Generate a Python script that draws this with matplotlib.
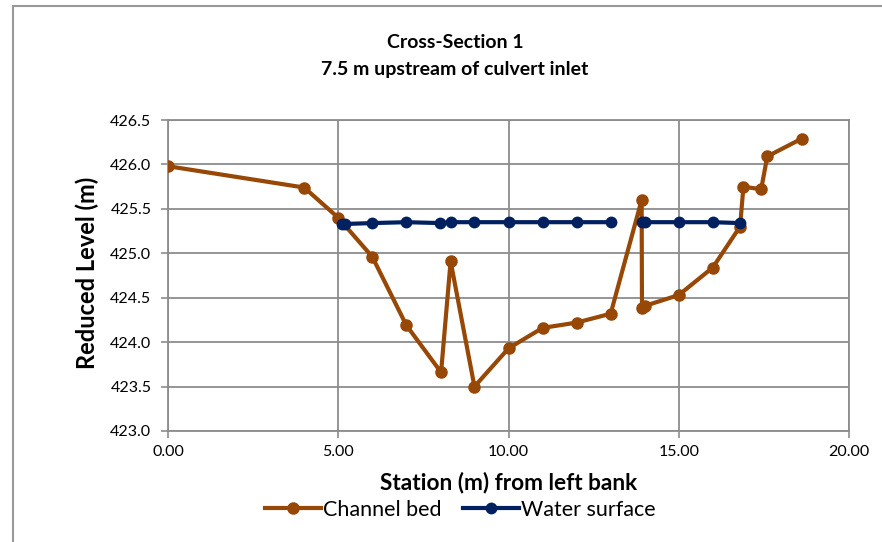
import numpy as np
import matplotlib
matplotlib.use("Agg")
import matplotlib.pyplot as plt
from matplotlib.patches import Rectangle

plt.rcParams['font.family'] = ['Lato', 'DejaVu Sans']

# channel bed survey points (station m, reduced level m)
bed_station = [0.0, 4.0, 5.0, 6.0, 7.0, 8.02, 8.3, 9.0, 10.0, 11.0, 12.0, 13.0,
               13.91, 13.92, 14.02, 15.0, 16.0, 16.8, 16.9, 17.42, 17.6, 18.61]
bed_level = [425.98, 425.74, 425.40, 424.96, 424.19, 423.66, 424.91, 423.50, 423.93,
             424.16, 424.22, 424.32, 425.60, 424.38, 424.41, 424.53, 424.84, 425.30,
             425.75, 425.72, 426.09, 426.29]

# water surface (gap between 13 and 13.9)
ws_station = [5.1, 5.2, 6.0, 7.0, 8.0, 8.32, 9.0, 10.0, 11.0, 12.0, 13.0, 13.5,
              13.92, 14.02, 15.0, 16.0, 16.8]
ws_level = [425.33, 425.33, 425.34, 425.35, 425.34, 425.35, 425.35, 425.35, 425.35,
            425.35, 425.35, np.nan, 425.35, 425.35, 425.35, 425.35, 425.34]

bed_color = '#974706'
ws_color = '#002060'
grid_color = '#8c8c8c'

fig = plt.figure(figsize=(8.82, 5.42), dpi=100)
ax = fig.add_axes([168 / 882, 1 - 431 / 542, (849 - 168) / 882, (431 - 120) / 542])

ax.plot(bed_station, bed_level, color=bed_color, lw=3, marker='o', ms=8,
        label='Channel bed', zorder=3)
ax.plot(ws_station, ws_level, color=ws_color, lw=3, marker='o', ms=7.5,
        label='Water surface', zorder=4)

ax.set_xlim(0, 20)
ax.set_ylim(423.0, 426.5)
ax.set_xticks(np.arange(0, 20.1, 5))
ax.set_yticks(np.arange(423.0, 426.51, 0.5))
ax.xaxis.set_major_formatter(matplotlib.ticker.FormatStrFormatter('%.2f'))
ax.yaxis.set_major_formatter(matplotlib.ticker.FormatStrFormatter('%.1f'))
ax.tick_params(axis='both', direction='out', length=5, width=1.2, color=grid_color,
               labelsize=11.5)
ax.tick_params(axis='y', pad=7)
ax.tick_params(axis='x', pad=5)
ax.grid(True, color=grid_color, lw=1.3)
ax.set_axisbelow(True)
for s in ax.spines.values():
    s.set_color(grid_color)
    s.set_linewidth(1.3)

ax.set_xlabel('Station (m) from left bank', fontsize=16.3, fontweight='bold', labelpad=9)
ax.set_ylabel('Reduced Level (m)', fontsize=17, fontweight='bold')
ax.yaxis.set_label_coords(99 / 882, 1 - 273 / 542, transform=fig.transFigure)

fig.text(455 / 882, 1 - 42 / 542, 'Cross-Section 1', ha='center', va='center',
         fontsize=14, fontweight='bold')
fig.text(455 / 882, 1 - 70 / 542, '7.5 m upstream of culvert inlet', ha='center',
         va='center', fontsize=14, fontweight='bold')

fig.legend(loc='center', bbox_to_anchor=(460 / 882, 1 - 510 / 542), ncol=2,
           frameon=False, fontsize=15.5, handlelength=2.6, handletextpad=0.1,
           columnspacing=1.0, borderaxespad=0)

# outer chart border
fig.patches.append(Rectangle((13 / 882, -0.01), 1.0, 1 - 6 / 542 + 0.01,
                             transform=fig.transFigure, fill=False,
                             edgecolor='#999999', lw=1.5))

fig.savefig('out.png', dpi=100)
